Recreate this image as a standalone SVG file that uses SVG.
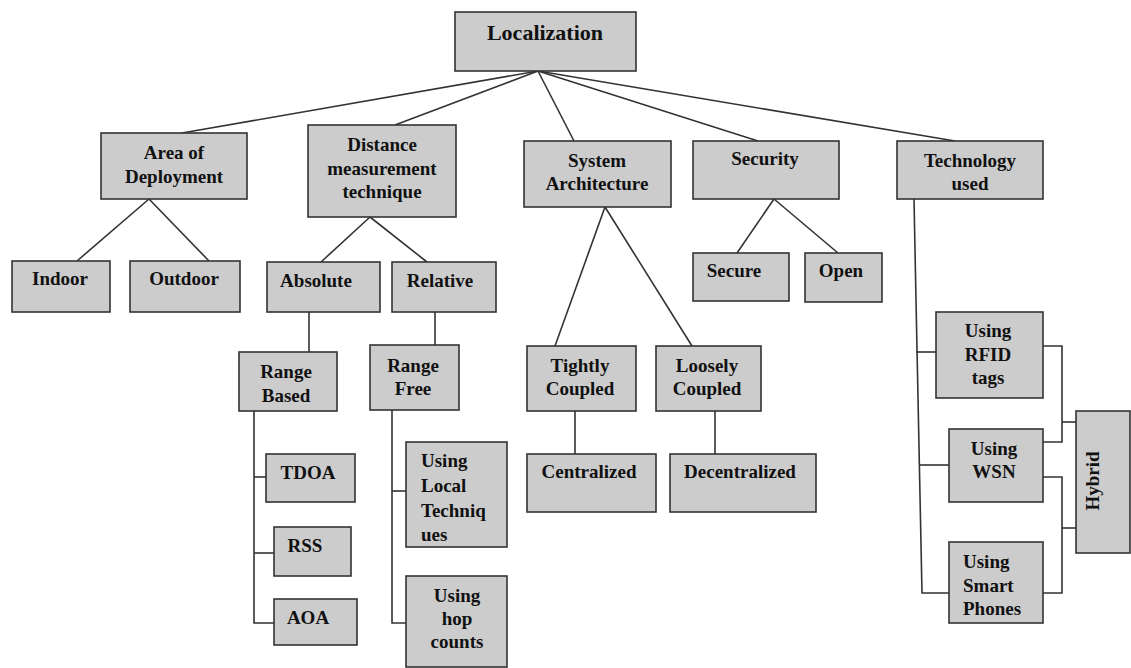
<svg xmlns="http://www.w3.org/2000/svg" width="1131" height="668" viewBox="0 0 1131 668">
  <style>
    .box { fill: #cccccc; stroke: #333333; stroke-width: 1.6; }
    .lbl { font-family: "Liberation Serif", "Times New Roman", serif; font-weight: bold; font-size: 19px; fill: #111111; text-anchor: middle; }
    .lft { text-anchor: start; }
    .big { font-size: 22px; }
    .wire { fill: none; stroke: #333333; stroke-width: 1.6; }
  </style>
  <rect width="1131" height="668" fill="#ffffff"/>

  <!-- connectors -->
  <g id="connectors" class="wire">
    <!-- root fan-out -->
    <line x1="538" y1="71" x2="182" y2="133"/>
    <line x1="538" y1="71" x2="395" y2="125"/>
    <line x1="538" y1="71" x2="574" y2="141"/>
    <line x1="538" y1="71" x2="758" y2="141"/>
    <line x1="538" y1="71" x2="955" y2="141"/>
    <!-- area of deployment -->
    <line x1="149" y1="199" x2="77" y2="261"/>
    <line x1="149" y1="199" x2="209" y2="261"/>
    <!-- distance measurement -->
    <line x1="370" y1="217" x2="321" y2="262"/>
    <line x1="370" y1="217" x2="427" y2="262"/>
    <line x1="309" y1="312" x2="309" y2="352"/>
    <line x1="435" y1="312" x2="435" y2="345"/>
    <!-- range based list -->
    <path d="M254,411 V623 H274"/>
    <path d="M254,477 H266"/>
    <path d="M254,553 H274"/>
    <!-- range free list -->
    <path d="M392,410 V623 H406"/>
    <path d="M392,491 H406"/>
    <!-- system architecture -->
    <line x1="605" y1="207" x2="555" y2="346"/>
    <line x1="605" y1="207" x2="692" y2="346"/>
    <line x1="575" y1="411" x2="575" y2="454"/>
    <line x1="715" y1="411" x2="715" y2="454"/>
    <!-- security -->
    <line x1="774" y1="199" x2="737" y2="253"/>
    <line x1="774" y1="199" x2="838" y2="253"/>
    <!-- technology used -->
    <path d="M914,199 L916,300 L922,593 H949"/>
    <path d="M916,352 H936"/>
    <path d="M919,465 H949"/>
    <!-- hybrid brackets -->
    <path d="M1043,346 H1062 V442 H1043"/>
    <path d="M1062,422 H1076"/>
    <path d="M1043,477 H1062 V593 H1043"/>
    <path d="M1062,528 H1076"/>
  </g>

  <g id="localization">
    <rect class="box" x="455" y="12" width="181" height="59"/>
    <text class="lbl big" x="545" y="40">Localization</text>
  </g>

  <g id="area-of-deployment">
    <rect class="box" x="101" y="133" width="146" height="66"/>
    <text class="lbl" x="174" y="159">Area of</text>
    <text class="lbl" x="174" y="183">Deployment</text>
  </g>
  <g id="distance-measurement">
    <rect class="box" x="308" y="125" width="148" height="92"/>
    <text class="lbl" x="382" y="151">Distance</text>
    <text class="lbl" x="382" y="175">measurement</text>
    <text class="lbl" x="382" y="198">technique</text>
  </g>
  <g id="system-architecture">
    <rect class="box" x="524" y="141" width="147" height="66"/>
    <text class="lbl" x="597" y="167">System</text>
    <text class="lbl" x="597" y="190">Architecture</text>
  </g>
  <g id="security">
    <rect class="box" x="693" y="141" width="146" height="58"/>
    <text class="lbl" x="765" y="165">Security</text>
  </g>
  <g id="technology-used">
    <rect class="box" x="897" y="141" width="146" height="58"/>
    <text class="lbl" x="970" y="167">Technology</text>
    <text class="lbl" x="970" y="190">used</text>
  </g>

  <g id="indoor">
    <rect class="box" x="12" y="261" width="98" height="51"/>
    <text class="lbl" x="60" y="285">Indoor</text>
  </g>
  <g id="outdoor">
    <rect class="box" x="130" y="261" width="110" height="51"/>
    <text class="lbl" x="184" y="285">Outdoor</text>
  </g>
  <g id="absolute">
    <rect class="box" x="267" y="262" width="113" height="50"/>
    <text class="lbl" x="316" y="287">Absolute</text>
  </g>
  <g id="relative">
    <rect class="box" x="392" y="262" width="104" height="50"/>
    <text class="lbl" x="440" y="287">Relative</text>
  </g>
  <g id="range-based">
    <rect class="box" x="239" y="352" width="98" height="59"/>
    <text class="lbl" x="286" y="378">Range</text>
    <text class="lbl" x="286" y="402">Based</text>
  </g>
  <g id="range-free">
    <rect class="box" x="370" y="345" width="89" height="65"/>
    <text class="lbl" x="413" y="372">Range</text>
    <text class="lbl" x="413" y="395">Free</text>
  </g>
  <g id="tdoa">
    <rect class="box" x="266" y="454" width="89" height="48"/>
    <text class="lbl" x="308" y="479">TDOA</text>
  </g>
  <g id="rss">
    <rect class="box" x="274" y="527" width="77" height="49"/>
    <text class="lbl" x="305" y="552">RSS</text>
  </g>
  <g id="aoa">
    <rect class="box" x="274" y="599" width="83" height="46"/>
    <text class="lbl" x="308" y="624">AOA</text>
  </g>
  <g id="local-techniques">
    <rect class="box" x="406" y="442" width="101" height="105"/>
    <text class="lbl lft" x="421" y="467">Using</text>
    <text class="lbl lft" x="421" y="492">Local</text>
    <text class="lbl lft" x="421" y="517">Techniq</text>
    <text class="lbl lft" x="421" y="541">ues</text>
  </g>
  <g id="hop-counts">
    <rect class="box" x="406" y="576" width="101" height="91"/>
    <text class="lbl" x="457" y="602">Using</text>
    <text class="lbl" x="457" y="625">hop</text>
    <text class="lbl" x="457" y="648">counts</text>
  </g>

  <g id="tightly-coupled">
    <rect class="box" x="527" y="346" width="109" height="65"/>
    <text class="lbl" x="580" y="372">Tightly</text>
    <text class="lbl" x="580" y="395">Coupled</text>
  </g>
  <g id="loosely-coupled">
    <rect class="box" x="656" y="346" width="105" height="65"/>
    <text class="lbl" x="707" y="372">Loosely</text>
    <text class="lbl" x="707" y="395">Coupled</text>
  </g>
  <g id="centralized">
    <rect class="box" x="527" y="454" width="129" height="58"/>
    <text class="lbl" x="589" y="478">Centralized</text>
  </g>
  <g id="decentralized">
    <rect class="box" x="670" y="454" width="146" height="58"/>
    <text class="lbl" x="740" y="478">Decentralized</text>
  </g>

  <g id="secure">
    <rect class="box" x="693" y="253" width="96" height="48"/>
    <text class="lbl" x="734" y="277">Secure</text>
  </g>
  <g id="open">
    <rect class="box" x="805" y="253" width="77" height="49"/>
    <text class="lbl" x="841" y="277">Open</text>
  </g>

  <g id="rfid-tags">
    <rect class="box" x="936" y="312" width="107" height="86"/>
    <text class="lbl" x="988" y="337">Using</text>
    <text class="lbl" x="988" y="361">RFID</text>
    <text class="lbl" x="988" y="384">tags</text>
  </g>
  <g id="wsn">
    <rect class="box" x="949" y="429" width="94" height="73"/>
    <text class="lbl" x="994" y="455">Using</text>
    <text class="lbl" x="994" y="478">WSN</text>
  </g>
  <g id="smart-phones">
    <rect class="box" x="949" y="542" width="94" height="81"/>
    <text class="lbl lft" x="963" y="568">Using</text>
    <text class="lbl lft" x="963" y="592">Smart</text>
    <text class="lbl lft" x="963" y="615">Phones</text>
  </g>
  <g id="hybrid">
    <rect class="box" x="1076" y="411" width="54" height="142"/>
    <text class="lbl" x="0" y="0" font-size="21" transform="translate(1099,481) rotate(-90)">Hybrid</text>
  </g>
</svg>
